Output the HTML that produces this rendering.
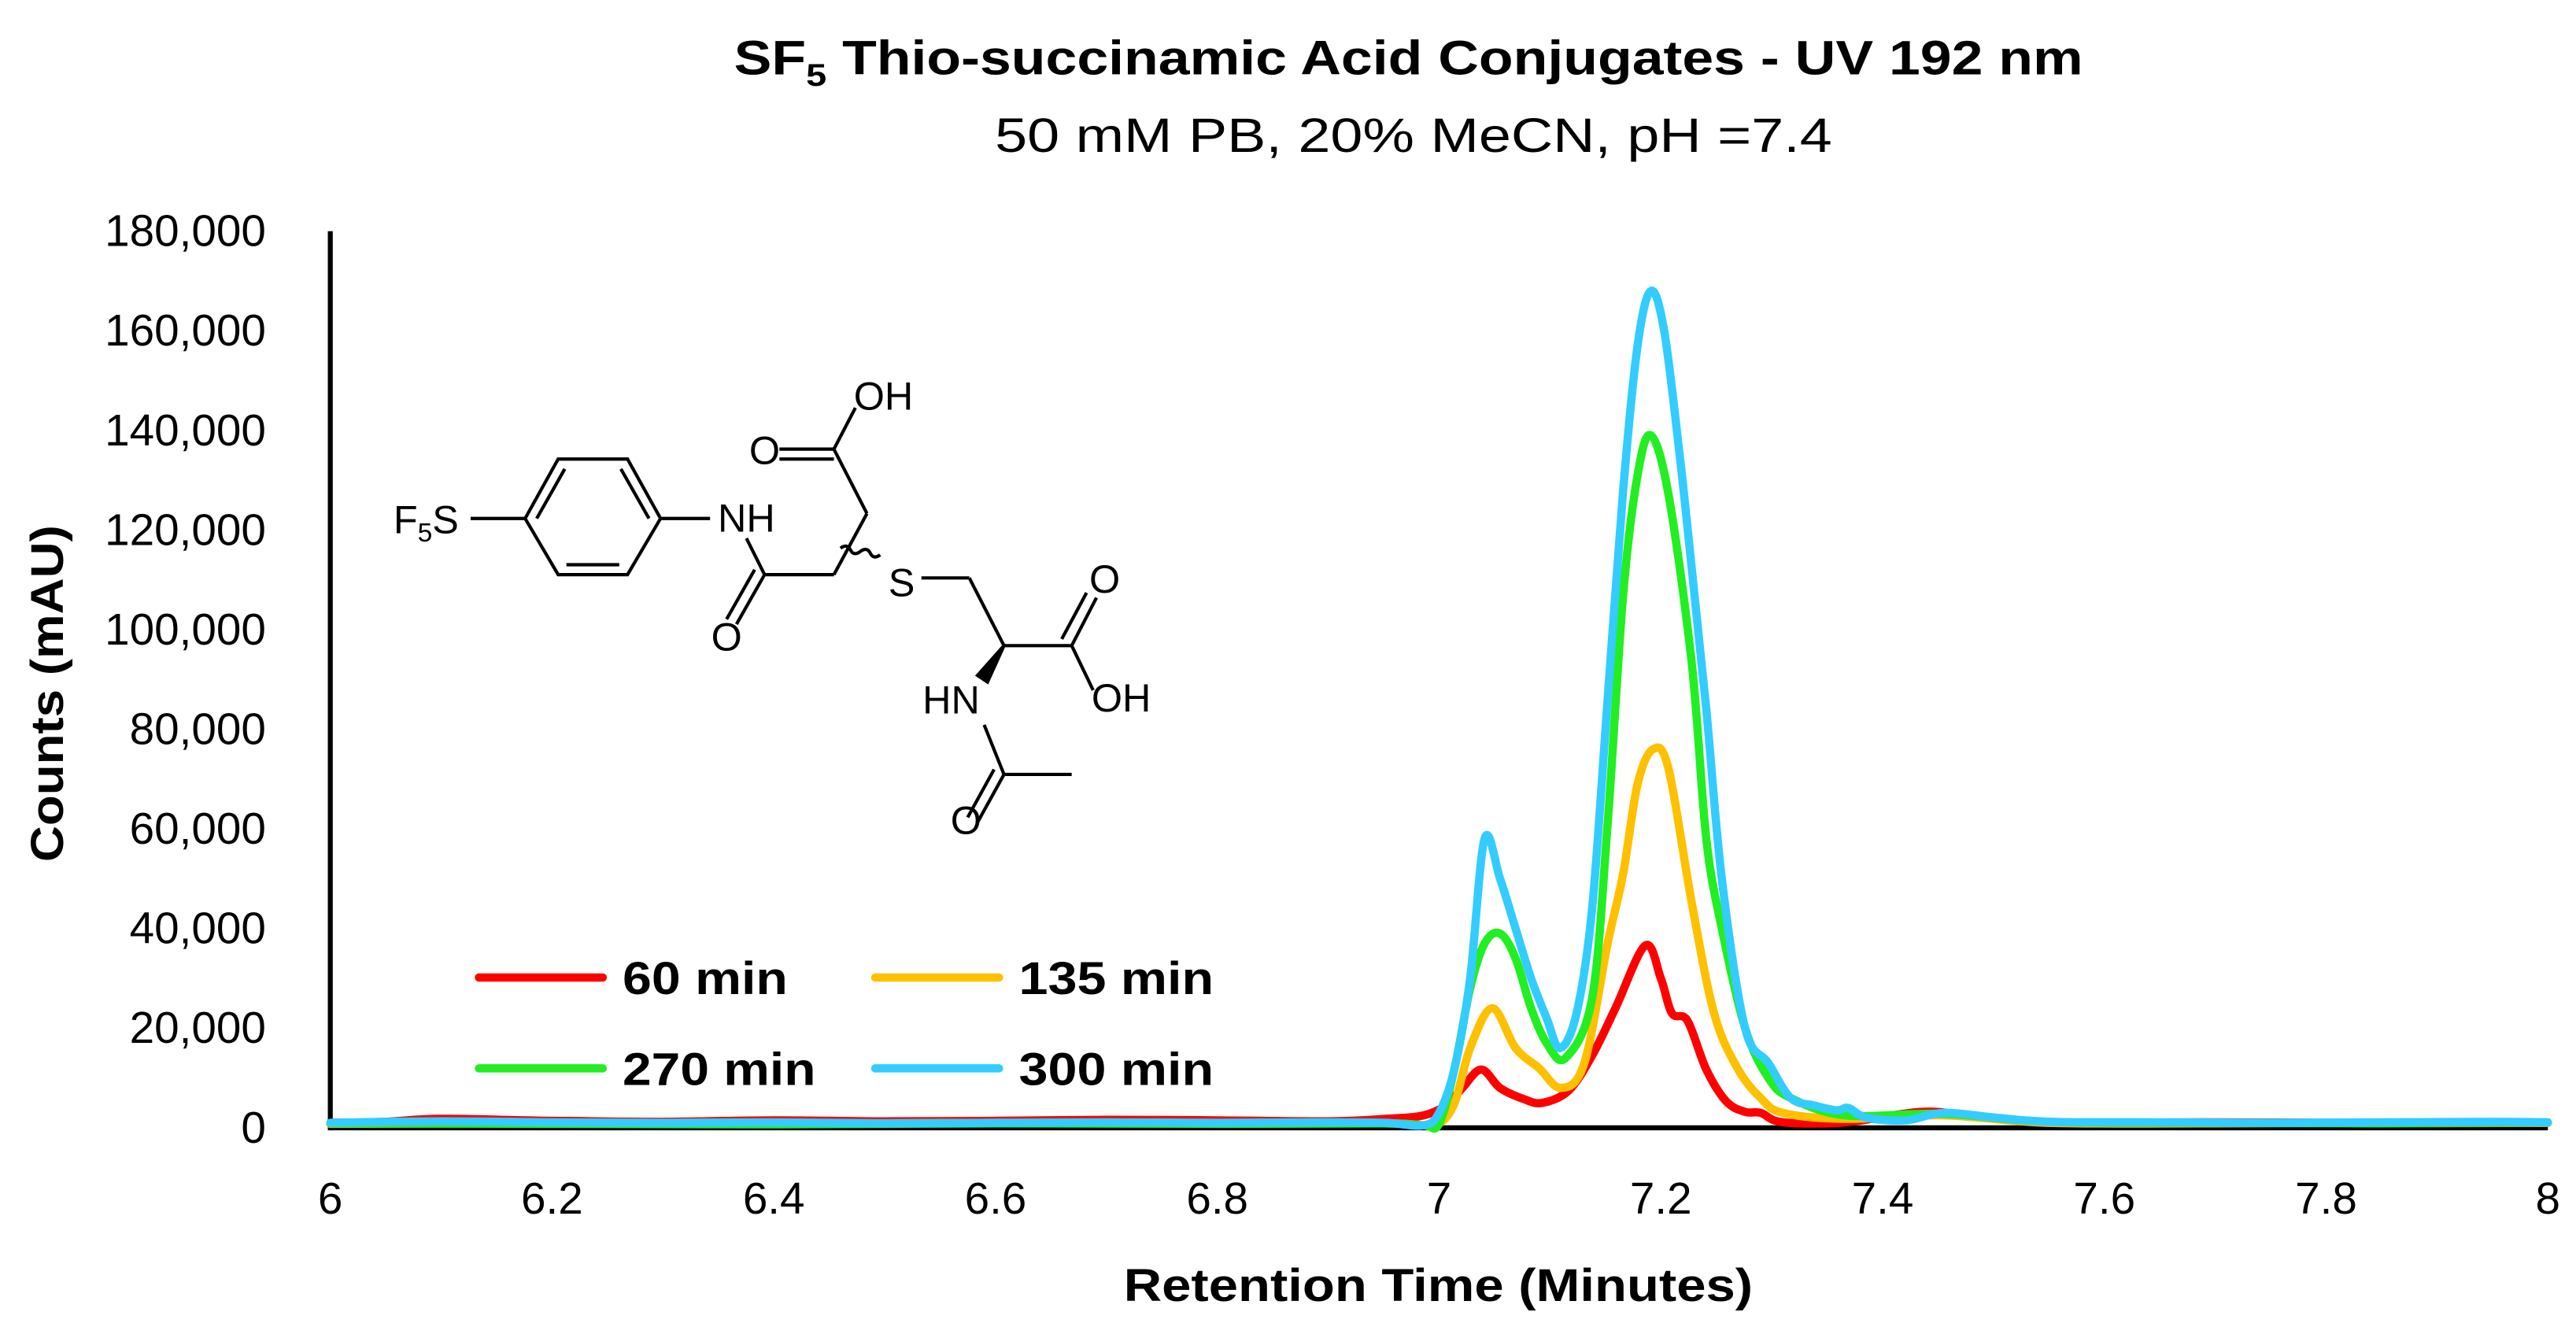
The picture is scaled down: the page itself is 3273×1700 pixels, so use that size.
<!DOCTYPE html>
<html><head><meta charset="utf-8"><style>
html,body{margin:0;padding:0;background:#fff;}
svg{display:block;}
text{font-family:"Liberation Sans",sans-serif;}
</style></head><body>
<svg id="chart" width="3273" height="1700" viewBox="0 0 1560 810.3" xmlns="http://www.w3.org/2000/svg">
<text x="853" y="45" text-anchor="middle" font-weight="bold" font-size="29" textLength="817" lengthAdjust="spacingAndGlyphs">SF<tspan font-size="19" dy="7">5</tspan><tspan dy="-7"> Thio-succinamic Acid Conjugates - UV 192 nm</tspan></text>
<text x="856" y="92" text-anchor="middle" font-size="29" textLength="507" lengthAdjust="spacingAndGlyphs">50 mM PB, 20% MeCN, pH =7.4</text>
<text transform="translate(38,420) rotate(-90)" text-anchor="middle" font-weight="bold" font-size="28" textLength="204" lengthAdjust="spacingAndGlyphs">Counts (mAU)</text>
<text x="871" y="788" text-anchor="middle" font-weight="bold" font-size="28" textLength="381" lengthAdjust="spacingAndGlyphs">Retention Time (Minutes)</text>
<g id="yticks"></g><g id="xticks"></g>
<line x1="200" y1="140" x2="200" y2="684.5" stroke="#000" stroke-width="3"/>
<line x1="200" y1="683" x2="1543" y2="683" stroke="#000" stroke-width="3"/>
<g id="series"></g>
<g stroke="#000" stroke-width="2" fill="none">
<line x1="285" y1="314" x2="318" y2="314"/>
<polygon points="318,314 338,278 380,278 400,314 380,348 338,348"/>
<line x1="325" y1="314" x2="342" y2="284"/>
<line x1="376" y1="284" x2="393" y2="314"/>
<line x1="343" y1="342" x2="375" y2="342"/>
<line x1="400" y1="314" x2="430" y2="314"/>
<line x1="452" y1="326" x2="463" y2="348"/>
<line x1="463" y1="348" x2="446" y2="378"/><line x1="457" y1="345" x2="440" y2="375"/>
<line x1="463" y1="348" x2="505" y2="348"/>
<line x1="505" y1="348" x2="525" y2="311"/>
<line x1="525" y1="311" x2="505" y2="272"/>
<line x1="505" y1="272" x2="472" y2="272"/><line x1="505" y1="278" x2="472" y2="278"/>
<line x1="505" y1="272" x2="518" y2="247"/>
<path d="M509,332 q4,-3 6,1 q2,4 6,1 q4,-3 6,1 q2,4 6,1"/>
<line x1="558" y1="350" x2="587" y2="350"/>
<line x1="587" y1="350" x2="608" y2="391"/>
<line x1="608" y1="391" x2="649" y2="391"/>
<line x1="649" y1="391" x2="664" y2="362"/><line x1="643" y1="387" x2="658" y2="359"/>
<line x1="649" y1="391" x2="662" y2="418"/>
<line x1="596" y1="439" x2="608" y2="469"/>
<line x1="608" y1="469" x2="649" y2="469"/>
<line x1="608" y1="469" x2="592" y2="498"/><line x1="602" y1="466" x2="586" y2="495"/>
<polygon points="608,391 598,413 592,409" fill="#000"/>
</g>
<g font-size="24" text-anchor="middle">
<text x="258" y="323">F<tspan font-size="16" dy="5">5</tspan><tspan dy="-5">S</tspan></text>
<text x="452" y="322">NH</text>
<text x="440" y="394">O</text>
<text x="463" y="281">O</text>
<text x="535" y="248">OH</text>
<text x="546" y="361">S</text>
<text x="669" y="359">O</text>
<text x="679" y="431">OH</text>
<text x="576" y="432">HN</text>
<text x="585" y="505">O</text>
</g>
<g id="legend"></g>
</svg>
<script>
const yTicks = [0,20000,40000,60000,80000,100000,120000,140000,160000,180000];
const xTicks = [6,6.2,6.4,6.6,6.8,7,7.2,7.4,7.6,7.8,8];
const xTickLabels = ["6","6.2","6.4","6.6","6.8","7","7.2","7.4","7.6","7.8","8"];
const seriesNames = ["60 min","135 min","270 min","300 min"];
const seriesColors = ["#ff0000","#ffc000","#22ee22","#33ccff"];
const times60 = [6.0,6.05,6.1,6.2,6.3,6.4,6.5,6.6,6.7,6.8,6.9,6.952,6.986,7.007,7.021,7.038,7.055,7.076,7.093,7.117,7.138,7.159,7.186,7.2,7.21,7.224,7.241,7.259,7.276,7.29,7.31,7.366,7.434,7.476,7.538,7.6,7.7,7.8,7.9,8.0];
const vals60 = [1000,1200,1800,1400,1200,1500,1300,1400,1600,1500,1300,1800,2500,4600,8000,11700,8000,5800,5000,7500,14500,24000,36600,30000,23000,21500,11700,5300,3200,3000,1100,1100,3200,2500,1100,1000,1100,1000,900,1000];
const times135 = [6.0,6.2,6.4,6.6,6.8,6.95,6.986,7.0,7.014,7.028,7.048,7.069,7.09,7.11,7.131,7.152,7.166,7.179,7.193,7.207,7.228,7.248,7.269,7.29,7.31,7.366,7.455,7.55,7.7,7.85,8.0];
const vals135 = [800,900,800,1000,900,900,500,800,5000,16000,24000,16000,12000,8000,13000,37000,51000,69000,76000,72000,45000,23000,12000,6000,3000,1800,2500,1000,900,1000,1000];
const times270 = [6.0,6.2,6.4,6.6,6.8,6.95,6.986,7.0,7.014,7.028,7.041,7.055,7.069,7.083,7.097,7.114,7.138,7.152,7.166,7.179,7.191,7.207,7.228,7.241,7.255,7.276,7.297,7.317,7.366,7.455,7.55,7.7,7.85,8.0];
const vals270 = [900,800,700,900,800,900,500,800,12000,28000,37000,39000,34000,24000,17000,14000,26000,61000,107000,131000,139000,127000,93000,58000,40000,20000,10000,6000,2500,2800,1200,1000,900,1100];
const times300 = [6.0,6.1,6.2,6.3,6.4,6.5,6.6,6.7,6.8,6.9,6.952,6.986,7.0,7.014,7.028,7.041,7.055,7.069,7.083,7.097,7.109,7.124,7.138,7.152,7.166,7.179,7.191,7.203,7.217,7.228,7.241,7.255,7.276,7.297,7.317,7.338,7.359,7.369,7.386,7.421,7.455,7.503,7.552,7.65,7.75,7.85,7.95,8.0];
const vals300 = [1000,1300,1100,1000,1100,900,1000,1100,1000,1100,1000,500,3000,12000,30000,58000,50000,40000,30000,22000,16000,23000,44000,86000,128000,157000,168000,160000,135000,112000,84000,50000,20000,13000,6000,4500,3500,4000,2000,1500,3000,2000,1200,1100,1000,1100,1200,1100];

const NS="http://www.w3.org/2000/svg";
const X0=200,X1=1543,Y0=683,Y1=140;
function xs(t){return X0+(t-6)/(8-6)*(X1-X0);}
function ys(v){return Y0-(v/180000)*(Y0-Y1);}
function mk(tag,attrs){const e=document.createElementNS(NS,tag);for(const k in attrs)e.setAttribute(k,attrs[k]);return e;}

const yg=document.getElementById('yticks');
yTicks.forEach(v=>{
  const t=mk('text',{x:161,y:ys(v)+9,'text-anchor':'end','font-size':27});
  
  
  t.textContent=v.toLocaleString('en-US');
  yg.appendChild(t);
});
const xg=document.getElementById('xticks');
xTicks.forEach((v,i)=>{
  const t=mk('text',{x:xs(v),y:735,'text-anchor':'middle','font-size':27});
  
  
  t.textContent=xTickLabels[i];
  xg.appendChild(t);
});

function smoothPath(ts,vs){
  const p=ts.map((t,i)=>[xs(t),ys(vs[i])]);
  let d='M'+p[0][0].toFixed(2)+','+p[0][1].toFixed(2);
  for(let i=0;i<p.length-1;i++){
    const p0=p[Math.max(i-1,0)],p1=p[i],p2=p[i+1],p3=p[Math.min(i+2,p.length-1)];
    const c1=[p1[0]+(p2[0]-p0[0])/6,p1[1]+(p2[1]-p0[1])/6];
    const c2=[p2[0]-(p3[0]-p1[0])/6,p2[1]-(p3[1]-p1[1])/6];
    d+=' C'+c1[0].toFixed(2)+','+c1[1].toFixed(2)+' '+c2[0].toFixed(2)+','+c2[1].toFixed(2)+' '+p2[0].toFixed(2)+','+p2[1].toFixed(2);
  }
  return d;
}
const sg=document.getElementById('series');
const allT=[times60,times135,times270,times300];
const allV=[vals60,vals135,vals270,vals300];
const sNames=['series-60-min','series-135-min','series-270-min','series-300-min'];
for(let i=0;i<4;i++){
  const path=mk('path',{d:smoothPath(allT[i],allV[i]),fill:'none',stroke:seriesColors[i],'stroke-width':5,'stroke-linejoin':'round','stroke-linecap':'round'});
  
  
  sg.appendChild(path);
}
const lg=document.getElementById('legend');
const lpos=[[290,592],[530,592],[290,647],[530,647]];
const lw=[100,118,117,118];
for(let i=0;i<4;i++){
  const [lx,ly]=lpos[i];
  const ln=mk('line',{x1:lx,y1:ly,x2:lx+75,y2:ly,stroke:seriesColors[i],'stroke-width':5,'stroke-linecap':'round'});
  
  
  lg.appendChild(ln);
  const tx=mk('text',{x:lx+87,y:ly+10,'font-size':28,'font-weight':'bold',textLength:lw[i],lengthAdjust:'spacingAndGlyphs'});
  
  
  tx.textContent=seriesNames[i];
  lg.appendChild(tx);
}
</script>
</body></html>
